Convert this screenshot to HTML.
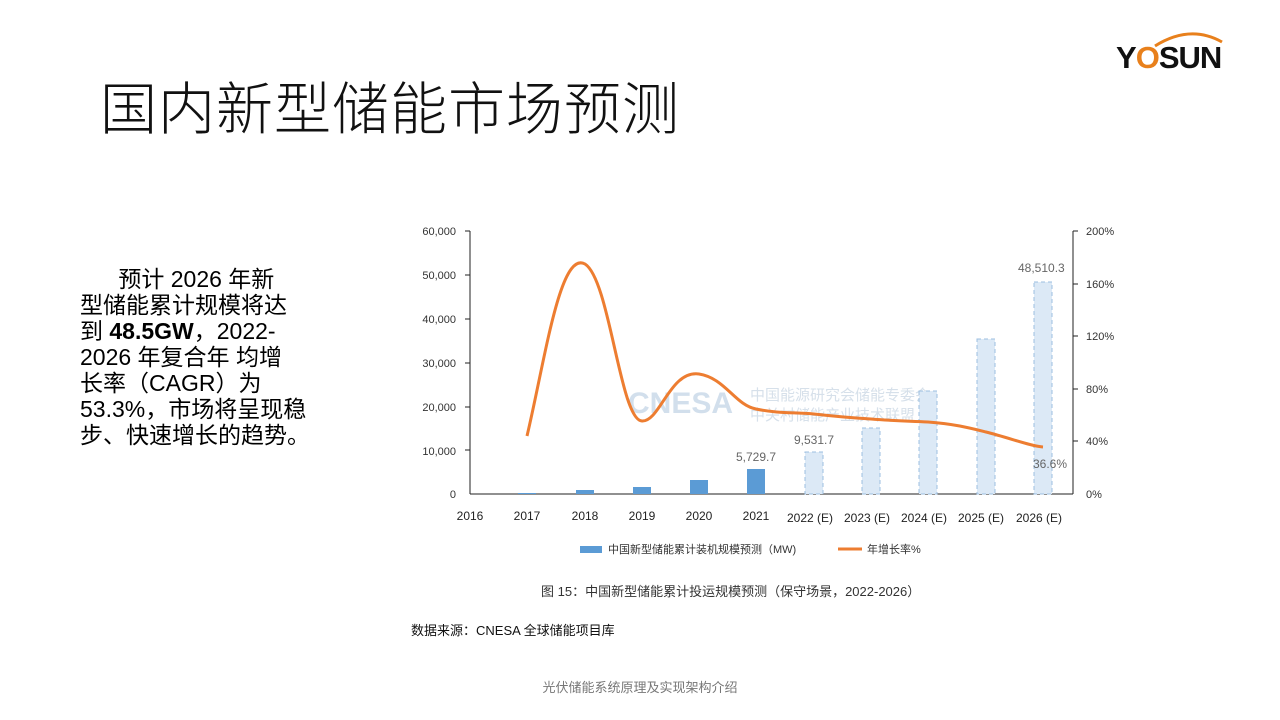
<!DOCTYPE html>
<html><head><meta charset="utf-8"><style>
body{margin:0;width:1280px;height:720px;background:#fff;position:relative;overflow:hidden;font-family:"Liberation Sans","Noto Sans CJK SC",sans-serif}
.t{position:absolute;white-space:nowrap}
</style></head><body>
<div class="t" style="left:100px;top:64px;font-size:57px;color:#111;font-weight:300;letter-spacing:1px">国内新型储能市场预测</div>
<div class="t" style="left:1116px;top:40px;font-size:31px;font-weight:900;color:#111;letter-spacing:-1px">Y<span style="color:#e8801c">O</span>SUN</div>
<svg style="position:absolute;left:1150px;top:28px" width="80" height="20"><path d="M5 18 Q40 -4 72 14" stroke="#e8801c" stroke-width="3" fill="none"/></svg>
<div class="t" style="left:80px;top:266px;font-size:23px;line-height:26px;color:#000">&nbsp;&nbsp;&nbsp;&nbsp;&nbsp;&nbsp;预计 2026 年新<br>型储能累计规模将达<br>到 <b>48.5GW</b>，2022-<br>2026 年复合年 均增<br>长率（CAGR）为<br>53.3%，市场将呈现稳<br>步、快速增长的趋势。</div>
<svg style="position:absolute;left:0;top:0" width="1280" height="720" font-family="Liberation Sans, Noto Sans CJK SC, sans-serif">
<g font-size="11" fill="#333">
<text x="628" y="413" fill="#c8d8e8" font-size="30" font-weight="bold" opacity="0.8">CNESA</text>
<text x="750" y="400" fill="#d6e0ea" font-size="15">中国能源研究会储能专委会</text>
<text x="750" y="420" fill="#d6e0ea" font-size="15">中关村储能产业技术联盟</text>
<line x1="470" y1="231" x2="470" y2="494" stroke="#222"/>
<line x1="1073" y1="231" x2="1073" y2="494" stroke="#222"/>
<line x1="470" y1="494" x2="1073" y2="494" stroke="#222"/>
<g text-anchor="end">
<text x="456" y="235">60,000</text><text x="456" y="279">50,000</text><text x="456" y="323">40,000</text><text x="456" y="367">30,000</text><text x="456" y="411">20,000</text><text x="456" y="455">10,000</text><text x="456" y="498">0</text></g>
<g stroke="#222"><line x1="465" y1="231" x2="470" y2="231"/><line x1="465" y1="275" x2="470" y2="275"/><line x1="465" y1="319" x2="470" y2="319"/><line x1="465" y1="363" x2="470" y2="363"/><line x1="465" y1="407" x2="470" y2="407"/><line x1="465" y1="450" x2="470" y2="450"/>
<line x1="1073" y1="231" x2="1078" y2="231"/><line x1="1073" y1="284" x2="1078" y2="284"/><line x1="1073" y1="336" x2="1078" y2="336"/><line x1="1073" y1="389" x2="1078" y2="389"/><line x1="1073" y1="441" x2="1078" y2="441"/></g>
<text x="1086" y="235">200%</text><text x="1086" y="288">160%</text><text x="1086" y="340">120%</text><text x="1086" y="393">80%</text><text x="1086" y="445">40%</text><text x="1086" y="498">0%</text>
<g fill="#5b9bd5"><rect x="518" y="493" width="18" height="1"/><rect x="576" y="490" width="18" height="4"/><rect x="633" y="487" width="18" height="7"/><rect x="690" y="480" width="18" height="14"/><rect x="747" y="469" width="18" height="25"/></g>
<g fill="#dce9f6" stroke="#9dbfe0" stroke-dasharray="4,3"><rect x="805" y="452" width="18" height="42"/><rect x="862" y="428" width="18" height="66"/><rect x="919" y="391" width="18" height="103"/><rect x="977" y="339" width="18" height="155"/><rect x="1034" y="282" width="18" height="212"/></g>
<text x="736" y="461" fill="#666" font-size="12">5,729.7</text><text x="794" y="444" fill="#666" font-size="12">9,531.7</text><text x="1018" y="272" fill="#666" font-size="12">48,510.3</text><text x="1033" y="468" fill="#666" font-size="12">36.6%</text>
<path d="M527 436 C545 360 560 250 585 264 C610 280 620 420 642 421 C660 422 670 370 699 374 C725 378 735 405 756 409 C780 414 795 412 814 414 C840 417 855 418 871 419 C895 421 910 421 928 422 C955 424 970 428 986 432 C1010 438 1030 446 1043 447" stroke="#ed7d31" stroke-width="3" fill="none"/>
<g font-size="12" fill="#222" text-anchor="middle"><text x="470" y="520">2016</text><text x="527" y="520">2017</text><text x="585" y="520">2018</text><text x="642" y="520">2019</text><text x="699" y="520">2020</text><text x="756" y="520">2021</text></g>
<g font-size="12" fill="#222"><text x="787" y="522">2022 (E)</text><text x="844" y="522">2023 (E)</text><text x="901" y="522">2024 (E)</text><text x="958" y="522">2025 (E)</text><text x="1016" y="522">2026 (E)</text></g>
<rect x="580" y="546" width="22" height="7" fill="#5b9bd5"/><text x="608" y="553" font-size="11">中国新型储能累计装机规模预测（MW)</text>
<line x1="838" y1="549" x2="862" y2="549" stroke="#ed7d31" stroke-width="3"/><text x="867" y="553" font-size="11">年增长率%</text>
<text x="541" y="596" font-size="13">图 15：中国新型储能累计投运规模预测（保守场景，2022-2026）</text>
<text x="411" y="635" font-size="13" fill="#111">数据来源：CNESA 全球储能项目库</text>
</g>
<text x="640" y="692" font-size="13" fill="#777" text-anchor="middle">光伏储能系统原理及实现架构介绍</text>
</svg>
</body></html>
